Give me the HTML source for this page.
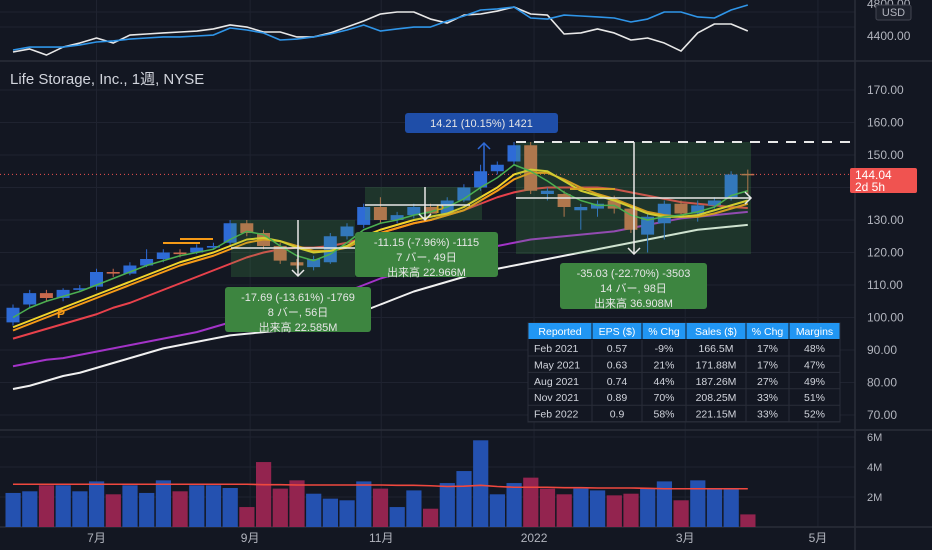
<!DOCTYPE html>
<html><head><meta charset="utf-8">
<style>
html,body{margin:0;padding:0;background:#131722;}
svg{display:block;font-family:"Liberation Sans","Noto Sans CJK JP",sans-serif;}
</style></head>
<body>
<svg id="chart" width="932" height="550" viewBox="0 0 932 550" xmlns="http://www.w3.org/2000/svg">
<rect x="0" y="0" width="932" height="550" fill="#131722"/>
<g id="grid"></g>
<g id="top"></g>
<g id="main"></g>
<g id="vol"></g>
<g id="overlay"></g>
<g id="axes"></g>
</svg>
<script>
const openP=[98.5,104,107.5,106,108.5,109.5,114,113.5,116,118,120,120,121.5,123,129,126,122,117,115.5,117,125,128.5,134,130,131.5,134,132,136,140,145,148,153,138,138,133,133.5,136,133.5,125.5,129,135,132,134.5,137,144.2];
const closeP=[103,107.5,106,108.5,109,114,113.5,116,118,120,119.5,121.5,122,129,126,122,117.5,116,118,125,128,134,130,131.5,134,132,136,140,145,147,153,139,139,134,134,135,133.5,127,131,135,132,134.5,136,144,144.04];
const highP=[104,108.5,108.5,109,110,115,115,117,121,121,121,122.5,123,130,130,127,123,118,119,126,129,135,137,132.5,135,135,137,141,147,148,154,154,140,139,135,136,137.5,134.5,132,136,136,136,137,145,145.5];
const lowP=[97.5,103,105,105,108,108.5,112.5,113,115.5,117,118.5,119.5,121,122,125,121,116.5,115,114.5,116.5,124,127.5,129,129,130.5,131,131.5,135.5,139,144,147,138,136,131,127,131,132,126,120,124,131,129.5,133.5,136,138];
const maGreen=[100,103,105,106.5,108,110,112,114,116,117.5,119,120,121,124,126.5,125.5,122,119,117.5,119.5,123,127,129,130,131.5,132.5,134,136.5,140,143,147,145,142,138.5,136,134.5,134.5,131.5,130,131,131.5,132.5,134,137.5,139];
const maYellow=[97,99,101,103,105,107,109,111,113,115,117,118.5,120,122,124,124.5,123.5,121.5,120,120.5,122,125,127,128.5,130,131,132,134,137,140,144,145.5,145,142,139,137.5,136,134,132,131,131,131.5,133,134.5,136];
const maOrange=[96,98,100,102,104,106,108,110,112,114,116,117.5,119,121,123,124,123.5,122,120.5,120.5,121.5,124,126,127.5,129,130,131.5,133,136,139,142.5,144.5,144.5,142.5,140,138,136.5,134.5,132.5,131.5,131,131,132,133.5,135];
const maRed=[93.5,95,96.5,98,99.5,101,103,104.5,106.5,108.5,110.5,112.5,114.5,116.5,118.5,120,121,121.5,121.5,122,123,124.5,126,127.5,129,130,131.5,133,135,137,138.5,139.5,140,140,140,140,139.5,138.5,137.5,136.5,135.5,135,134.5,134,133.7];
const maPurple=[85,86,87,87.5,88.5,89.5,90.5,91.5,92.5,93.5,94.5,95.5,97,98.5,100,101.5,102.5,103.5,104.5,106,108,110,112,113.5,115,116.5,118,119.5,121,122,123,124,124.5,125,125.5,126,126.5,127.5,128.5,129.5,130.5,131,131.5,132,132.5];
const maWhite=[78,79,80.5,82,83,84.5,86,87.5,89,90.5,91.5,92.5,93.5,94.5,95,95.5,96,96.5,97,98,100,102,104,106,108,109.5,111,112.5,114,115,116,117,118,119,120,121,122,123,124,125,126,127,127.5,128,128.5];
const volumeM=[2.27,2.38,2.78,2.78,2.38,3.04,2.18,2.78,2.27,3.11,2.38,2.78,2.78,2.6,1.33,4.33,2.56,3.11,2.22,1.89,1.78,3.04,2.56,1.33,2.44,1.22,2.93,3.73,5.78,2.18,2.93,3.29,2.56,2.18,2.56,2.44,2.11,2.22,2.56,3.04,1.78,3.11,2.56,2.56,0.84];
const volUp=[1,1,0,1,1,1,0,1,1,1,0,1,1,1,0,0,0,0,1,1,1,1,0,1,1,0,1,1,1,1,1,0,0,0,1,1,0,0,1,1,0,1,1,1,0];
const volMA=[2.85,2.85,2.85,2.85,2.85,2.85,2.85,2.85,2.85,2.85,2.85,2.85,2.85,2.85,2.85,2.82,2.82,2.8,2.8,2.8,2.8,2.8,2.8,2.78,2.78,2.75,2.7,2.72,2.78,2.7,2.65,2.65,2.65,2.62,2.62,2.6,2.6,2.6,2.58,2.55,2.55,2.55,2.55,2.55,2.55];
const spBlue=[4225,4262,4262,4262,4288,4325,4338,4362,4375,4388,4388,4400,4412,4500,4475,4438,4350,4362,4388,4425,4475,4538,4462,4488,4512,4512,4588,4650,4725,4738,4762,4625,4612,4662,4650,4638,4625,4575,4612,4700,4700,4638,4625,4725,4788];
const spWhite=[4200,4238,4162,4262,4312,4375,4312,4412,4425,4438,4450,4462,4488,4538,4512,4450,4450,4388,4388,4438,4512,4588,4675,4700,4700,4612,4562,4662,4675,4712,4762,4675,4662,4425,4438,4488,4438,4350,4375,4312,4212,4438,4550,4550,4462];
const priceTicks=[170,160,150,140,130,120,110,100,90,80,70];
const volTicks=[2,4,6];
const monthLabels=["7月","9月","11月","2022","3月","5月"];
const monthIdx=[5.0,14.2,22.05,31.2,40.25,48.2];
const tableHead=["Reported","EPS ($)","% Chg","Sales ($)","% Chg","Margins"];
const tableRows=[["Feb 2021","0.57","-9%","166.5M","17%","48%"],["May 2021","0.63","21%","171.88M","17%","47%"],["Aug 2021","0.74","44%","187.26M","27%","49%"],["Nov 2021","0.89","70%","208.25M","33%","51%"],["Feb 2022","0.9","58%","221.15M","33%","52%"]];

const NS="http://www.w3.org/2000/svg";
function mk(tag,attrs,parent){const e=document.createElementNS(NS,tag);for(const k in attrs)e.setAttribute(k,attrs[k]);parent.appendChild(e);return e;}
const X=i=>13+16.7*i;
const Y=p=>90+(170-p)*3.25;
const YV=m=>527-m*15;
const YT=v=>4+(4800-v)/12.5;
const G=document.getElementById('grid'),TOP=document.getElementById('top'),M=document.getElementById('main'),V=document.getElementById('vol'),O=document.getElementById('overlay'),A=document.getElementById('axes');

priceTicks.forEach(p=>{const l=mk('line',{x1:0,x2:855,y1:Y(p),y2:Y(p),stroke:'#1f2330','stroke-width':1},G);

});
[12,27].forEach(y=>{const l=mk('line',{x1:0,x2:855,y1:y,y2:y,stroke:'#1f2330'},G);

});
volTicks.forEach(m=>{const l=mk('line',{x1:0,x2:855,y1:YV(m),y2:YV(m),stroke:'#1f2330'},G);

});
monthIdx.forEach(i=>{const l=mk('line',{x1:X(i),x2:X(i),y1:0,y2:527,stroke:'#1f2330'},G);

});
[[0,61,932,61],[0,430,932,430],[0,527,932,527],[855,0,855,550]].forEach(s=>{const l=mk('line',{x1:s[0],y1:s[1],x2:s[2],y2:s[3],stroke:'#2a2e39','stroke-width':1.5},G);

});

function poly(arr,fx,fy,color,w,parent,name){const pts=arr.map((v,i)=>fx(i)+','+fy(v)).join(' ');const p=mk('polyline',{points:pts,fill:'none',stroke:color,'stroke-width':w,'stroke-linejoin':'round'},parent);

return p;}
poly(spWhite,X,YT,'#e8e8e8',1.6,TOP,'comparison-line-white');
poly(spBlue,X,YT,'#2f95e8',1.6,TOP,'comparison-line-blue');

const t=mk('text',{x:10,y:84,fill:'#d1d4dc','font-size':15},M);t.textContent='Life Storage, Inc., 1週, NYSE';



const dl=mk('line',{x1:0,x2:855,y1:Y(144.04),y2:Y(144.04),stroke:'#f05350','stroke-width':1,'stroke-dasharray':'1,3'},M);



poly(maWhite,X,Y,'#f0f0f0',2,M,'ma-white');
poly(maPurple,X,Y,'#a333c8',2,M,'ma-purple');
poly(maRed,X,Y,'#e8414b',2,M,'ma-red');

for(let i=0;i<openP.length;i++){
 const up=closeP[i]>=openP[i];const col=up?'#2e6bd6':'#c96a4d';
 const w=mk('line',{x1:X(i),x2:X(i),y1:Y(highP[i]),y2:Y(lowP[i]),stroke:col,'stroke-width':1},M);
 
 
 const top=Y(Math.max(openP[i],closeP[i])),bot=Y(Math.min(openP[i],closeP[i]));
 const b=mk('rect',{x:X(i)-6.5,y:top,width:13,height:Math.max(1.5,bot-top),fill:col},M);
 
 
}
poly(maOrange,X,Y,'#f59a17',2,M,'ma-orange');
poly(maYellow,X,Y,'#f2d42a',2,M,'ma-yellow');
poly(maGreen,X,Y,'#4caf50',1.5,M,'ma-green');

[[163,200,243],[180,213,239],[570,615,189]].forEach(s=>{const l=mk('line',{x1:s[0],x2:s[1],y1:s[2],y2:s[2],stroke:'#f59a17','stroke-width':2},M);

});
[[57,318],[436,213]].forEach(s=>{const p=mk('text',{x:s[0],y:s[1],fill:'#f59a17','font-size':12,'font-weight':'bold'},M);p.textContent='P';

});

for(let i=0;i<volumeM.length;i++){
 const r=mk('rect',{x:X(i)-7.5,y:YV(volumeM[i]),width:15.2,height:527-YV(volumeM[i]),fill:volUp[i]?'#2451b0':'#93244f'},V);
 
 
}
poly(volMA,X,YV,'#f0483e',1.6,V,'volume-ma');

function rect(x,y,w,h,fill,name,rx){const r=mk('rect',{x:x,y:y,width:w,height:h,fill:fill,rx:rx||0},O);

return r;}
function line(x1,y1,x2,y2,name,extra){const l=mk('line',Object.assign({x1:x1,y1:y1,x2:x2,y2:y2,stroke:'#e8e8e8','stroke-width':1.5},extra||{}),O);

return l;}
function arrowDown(x,y){const p=mk('polyline',{points:(x-6)+','+(y-6)+' '+x+','+y+' '+(x+6)+','+(y-6),fill:'none',stroke:'#e8e8e8','stroke-width':1.5},O);

}
function arrowRight(x,y){const p=mk('polyline',{points:(x-6)+','+(y-6)+' '+x+','+y+' '+(x-6)+','+(y+6),fill:'none',stroke:'#e8e8e8','stroke-width':1.5},O);

}
function label(x,y,w,h,lines,fill,name){rect(x,y,w,h,fill,name,3);lines.forEach((s,k)=>{const tx=mk('text',{x:x+w/2,y:y+14+k*15,fill:'#e6e6e6','font-size':11,'text-anchor':'middle'},O);tx.textContent=s;

});}

rect(231,220,124,57,'rgba(76,175,80,0.2)','measure-box-1');
line(231,248,363,248,'measure-h-1');arrowRight(363,248);
line(298,220,298,276,'measure-v-1');arrowDown(298,276);
rect(365,187,117,33,'rgba(76,175,80,0.2)','measure-box-2');
line(365,205,470,205,'measure-h-2');
line(425,187,425,220,'measure-v-2');arrowDown(425,220);
rect(516,142,235,112,'rgba(76,175,80,0.2)','measure-box-3');
line(516,198,751,198,'measure-h-3');arrowRight(751,198);
line(634,142,634,254,'measure-v-3');arrowDown(634,254);
line(516,142,855,142,'resistance-dashed',{'stroke-width':2,'stroke-dasharray':'10,8'});
line(484,172,484,143,'measure-up-4',{stroke:'#2f6bd8'});
const ua=mk('polyline',{points:'478,149 484,143 490,149',fill:'none',stroke:'#2f6bd8','stroke-width':1.5},O);



label(225,287,146,45,['-17.69 (-13.61%) -1769','8 バー, 56日','出来高 22.585M'],'#3d8540','measure-label-1');
label(355,232,143,45,['-11.15 (-7.96%) -1115','7 バー, 49日','出来高 22.966M'],'#3d8540','measure-label-2');
label(560,263,147,46,['-35.03 (-22.70%) -3503','14 バー, 98日','出来高 36.908M'],'#3d8540','measure-label-3');
label(405,113,153,20,['14.21 (10.15%) 1421'],'#1f4ea8','measure-label-4');

const colX=[528,592,642,686,746,789,840];
const tbl=mk('g',{},O);


mk('rect',{x:528,y:323,width:312,height:99,fill:'#131722',stroke:'#2a2e39'},tbl);
tableHead.forEach((h,c)=>{const r=mk('rect',{x:colX[c]+0.5,y:323,width:colX[c+1]-colX[c]-1,height:16,fill:'#2196f3'},tbl);


const tx=mk('text',{x:(colX[c]+colX[c+1])/2,y:335,fill:'#ffffff','font-size':10.5,'text-anchor':'middle'},tbl);tx.textContent=h;

});
tableRows.forEach((row,r)=>{const y=340+r*16.4;
mk('line',{x1:528,x2:840,y1:y+16,y2:y+16,stroke:'#2a2e39'},tbl);
row.forEach((v,c)=>{if(c>0)mk('line',{x1:colX[c],x2:colX[c],y1:y,y2:y+16,stroke:'#2a2e39'},tbl);
const tx=mk('text',{x:c==0?colX[c]+6:(colX[c]+colX[c+1])/2,y:y+12,fill:'#d1d4dc','font-size':10.5,'text-anchor':c==0?'start':'middle'},tbl);tx.textContent=v;

});});

priceTicks.forEach(p=>{const tx=mk('text',{x:867,y:Y(p)+4,fill:'#b2b5be','font-size':12},A);tx.textContent=p.toFixed(2);

});
volTicks.forEach(m=>{const tx=mk('text',{x:867,y:YV(m)+4,fill:'#b2b5be','font-size':11},A);tx.textContent=m+'M';

});
[['4800.00',8],['4400.00',40]].forEach(s=>{const tx=mk('text',{x:867,y:s[1],fill:'#b2b5be','font-size':12},A);tx.textContent=s[0];

});
const ub=mk('rect',{x:876,y:5,width:35,height:15,rx:2,fill:'#1e222d',stroke:'#434651'},A);


const ut=mk('text',{x:893.5,y:16,fill:'#b2b5be','font-size':11,'text-anchor':'middle'},A);ut.textContent='USD';


const pb=mk('rect',{x:850,y:168,width:67,height:25,rx:2,fill:'#f05350'},A);


[['144.04',179],['2d 5h',191]].forEach(s=>{const tx=mk('text',{x:855,y:s[1],fill:'#ffffff','font-size':12},A);tx.textContent=s[0];

});
monthLabels.forEach((s,k)=>{const tx=mk('text',{x:X(monthIdx[k]),y:542,fill:'#b2b5be','font-size':12,'text-anchor':'middle'},A);tx.textContent=s;

});
</script>
</body></html>
